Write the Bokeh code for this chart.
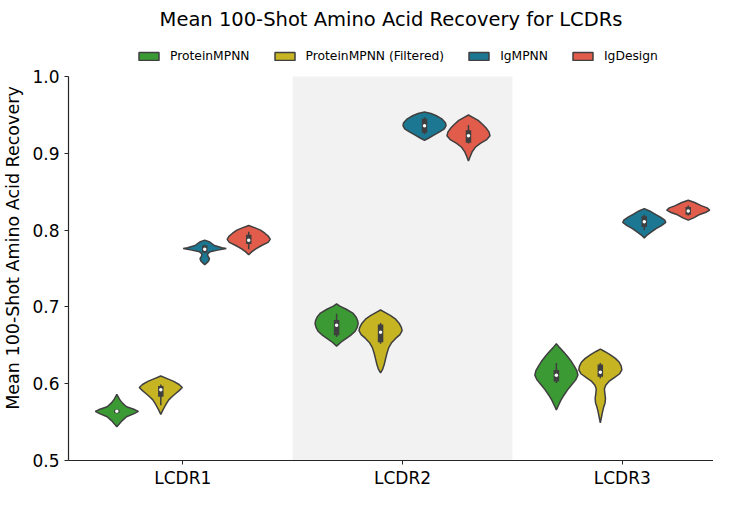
from bokeh.plotting import figure
from bokeh.models import Range1d, FixedTicker, Legend, LegendItem
from bokeh.embed import file_html
from bokeh.resources import INLINE

categories = ["LCDR1", "LCDR2", "LCDR3"]
models = ["ProteinMPNN", "ProteinMPNN (Filtered)", "IgMPNN", "IgDesign"]
colors = ["#3b9a34", "#c6b423", "#1c7892", "#e25c4b"]
y_ticks = [0.5, 0.6, 0.7, 0.8, 0.9, 1.0]

# Violin outlines: value levels (top->bottom) and relative half-width
pm_y = [
    [0.586, 0.580, 0.575, 0.570, 0.566, 0.564, 0.561, 0.557, 0.552, 0.548, 0.544],
    [0.704, 0.701, 0.697, 0.692, 0.687, 0.682, 0.678, 0.673, 0.668, 0.663, 0.658, 0.654, 0.649],
    [0.652, 0.647, 0.642, 0.636, 0.630, 0.623, 0.617, 0.611, 0.605, 0.599, 0.592, 0.585, 0.578, 0.572, 0.566],
]
pm_w = [
    [0, 0.12, 0.25, 0.45, 0.85, 1.0, 0.8, 0.45, 0.25, 0.12, 0],
    [0, 0.15, 0.45, 0.75, 0.9, 0.98, 1.0, 0.95, 0.85, 0.65, 0.4, 0.2, 0],
    [0, 0.15, 0.32, 0.5, 0.67, 0.83, 0.95, 1.0, 0.9, 0.72, 0.52, 0.35, 0.2, 0.1, 0],
]
pmf_y = [
    [0.610, 0.606, 0.603, 0.599, 0.595, 0.591, 0.587, 0.583, 0.579, 0.574, 0.570, 0.566, 0.563, 0.560],
    [0.696, 0.693, 0.689, 0.684, 0.678, 0.673, 0.669, 0.664, 0.659, 0.653, 0.647, 0.640, 0.632, 0.625, 0.619, 0.614],
    [0.645, 0.642, 0.638, 0.633, 0.628, 0.623, 0.618, 0.613, 0.608, 0.603, 0.598, 0.593, 0.587, 0.581, 0.575, 0.569, 0.563, 0.556, 0.549],
]
pmf_w = [
    [0, 0.35, 0.6, 0.85, 1.0, 0.85, 0.68, 0.52, 0.37, 0.26, 0.18, 0.1, 0.05, 0],
    [0, 0.2, 0.45, 0.7, 0.88, 0.97, 1.0, 0.9, 0.7, 0.5, 0.38, 0.3, 0.23, 0.17, 0.1, 0],
    [0, 0.2, 0.45, 0.7, 0.88, 0.97, 1.0, 0.9, 0.65, 0.4, 0.25, 0.19, 0.21, 0.24, 0.22, 0.15, 0.1, 0.05, 0],
]
ig_y = [
    [0.787, 0.785, 0.783, 0.780, 0.777, 0.776, 0.774, 0.772, 0.769, 0.766, 0.763, 0.760, 0.757, 0.755],
    [0.954, 0.952, 0.949, 0.945, 0.940, 0.936, 0.932, 0.928, 0.924, 0.920, 0.917],
    [0.828, 0.825, 0.821, 0.817, 0.813, 0.810, 0.806, 0.802, 0.798, 0.794, 0.790],
]
ig_w = [
    [0, 0.2, 0.3, 0.45, 0.8, 1.0, 0.6, 0.25, 0.13, 0.15, 0.22, 0.18, 0.08, 0],
    [0, 0.3, 0.55, 0.8, 0.97, 1.0, 0.92, 0.7, 0.45, 0.2, 0],
    [0, 0.25, 0.5, 0.75, 0.95, 1.0, 0.8, 0.55, 0.35, 0.15, 0],
]
igd_y = [
    [0.806, 0.803, 0.800, 0.796, 0.792, 0.788, 0.784, 0.780, 0.776, 0.772, 0.768],
    [0.950, 0.947, 0.943, 0.938, 0.933, 0.928, 0.923, 0.918, 0.913, 0.908, 0.902, 0.896, 0.890],
    [0.839, 0.836, 0.832, 0.829, 0.826, 0.823, 0.820, 0.816, 0.813],
]
igd_w = [
    [0, 0.3, 0.55, 0.75, 0.92, 1.0, 0.9, 0.6, 0.35, 0.15, 0],
    [0, 0.2, 0.45, 0.65, 0.82, 0.95, 1.0, 0.85, 0.55, 0.32, 0.17, 0.08, 0],
    [0, 0.3, 0.6, 0.88, 1.0, 0.8, 0.5, 0.25, 0],
]

# Inner box statistics (per category): median, q1, q3, whisker low, whisker high
pm_med = [0.564, 0.676, 0.611]
pm_q1 = [0.562, 0.663, 0.603]
pm_q3 = [0.566, 0.683, 0.618]
pm_lo = [0.561, 0.661, 0.601]
pm_hi = [0.567, 0.691, 0.627]

pmf_med = [0.592, 0.667, 0.615]
pmf_q1 = [0.583, 0.654, 0.609]
pmf_q3 = [0.597, 0.677, 0.625]
pmf_lo = [0.572, 0.652, 0.607]
pmf_hi = [0.599, 0.679, 0.627]

ig_med = [0.775, 0.936, 0.811]
ig_q1 = [0.771, 0.927, 0.804]
ig_q3 = [0.780, 0.945, 0.818]
ig_lo = [0.770, 0.925, 0.800]
ig_hi = [0.781, 0.947, 0.820]

igd_med = [0.787, 0.923, 0.825]
igd_q1 = [0.782, 0.914, 0.820]
igd_q3 = [0.794, 0.930, 0.830]
igd_lo = [0.775, 0.913, 0.819]
igd_hi = [0.798, 0.937, 0.832]

profiles_y = [pm_y, pmf_y, ig_y, igd_y]
profiles_w = [pm_w, pmf_w, ig_w, igd_w]
meds = [pm_med, pmf_med, ig_med, igd_med]
q1s = [pm_q1, pmf_q1, ig_q1, igd_q1]
q3s = [pm_q3, pmf_q3, ig_q3, igd_q3]
los = [pm_lo, pmf_lo, ig_lo, igd_lo]
his = [pm_hi, pmf_hi, ig_hi, igd_hi]

FONT = "DejaVu Sans"
OUT = "#3f3f3f"
n_h = len(models)
group_w = 0.8
hue_w = group_w / n_h
half_max = hue_w / 2 * 0.98
offsets = [-group_w / 2 + hue_w * (j + 0.5) for j in range(n_h)]

FIG_H = 490
TOP = 28
BOTTOM_EST = 38
HEAD = 41
frame_h = FIG_H - TOP - BOTTOM_EST
y_lo, y_hi = y_ticks[0], y_ticks[-1]
px_per_unit = (frame_h - HEAD) / (y_hi - y_lo)
y_top = y_hi + HEAD / px_per_unit

p = figure(width=713, height=FIG_H, output_backend="svg", toolbar_location=None,
           x_range=Range1d(-0.52, 2.415), y_range=Range1d(y_lo, y_top),
           min_border_left=56, min_border_right=0, min_border_top=TOP, min_border_bottom=20)
p.title.text = "Mean 100-Shot Amino Acid Recovery for LCDRs"
p.title.align = "center"
p.title.text_font = FONT
p.title.text_font_size = "19.5px"
p.title.text_font_style = "normal"
p.title.text_color = "#000000"
p.outline_line_color = None
p.xgrid.grid_line_color = None
p.ygrid.grid_line_color = None
p.background_fill_color = "white"

# shaded band behind the middle category
mid = 1
p.quad(left=[mid - 0.5], right=[mid + 0.5], bottom=[y_lo], top=[y_hi],
       fill_color="#f2f2f2", line_color=None)

legend_items = []
for j in range(n_h):
    xs, ys = [], []
    for i in range(len(categories)):
        cx = i + offsets[j]
        yv = profiles_y[j][i]
        wv = profiles_w[j][i]
        right = [cx + half_max * w for w in wv]
        left = [cx - half_max * w for w in wv][::-1]
        xs.append(right + left)
        ys.append(list(yv) + list(yv)[::-1])
    r = p.patches(xs, ys, fill_color=colors[j], line_color=OUT, line_width=1.5)
    legend_items.append(LegendItem(label=models[j], renderers=[r]))
    cxs = [i + offsets[j] for i in range(len(categories))]
    p.segment(x0=cxs, x1=cxs, y0=los[j], y1=his[j], line_color=OUT, line_width=1.5)
    p.segment(x0=cxs, x1=cxs, y0=q1s[j], y1=q3s[j], line_color=OUT, line_width=5.5, line_cap="butt")
    p.scatter(x=cxs, y=meds[j], size=3.5, fill_color="white", line_color=None)

legend = Legend(items=legend_items, orientation="horizontal", location=(68, frame_h - 27))
legend.label_text_font = FONT
legend.label_text_font_size = "12.3px"
legend.label_text_color = "#000000"
legend.glyph_width = 25
legend.glyph_height = 10
legend.spacing = 22
legend.label_standoff = 9
legend.padding = 2
legend.margin = 0
legend.border_line_color = None
legend.background_fill_alpha = 0
p.add_layout(legend, "center")

p.xaxis.ticker = FixedTicker(ticks=list(range(len(categories))))
p.xaxis.major_label_overrides = {i: c for i, c in enumerate(categories)}
p.xaxis.major_label_standoff = 3
p.yaxis.ticker = FixedTicker(ticks=y_ticks)
p.yaxis.major_label_overrides = {t: f"{t:.1f}" for t in y_ticks}
p.yaxis.bounds = (y_lo, y_hi)
p.yaxis.axis_label = "Mean 100-Shot Amino Acid Recovery"
for ax in (p.xaxis[0], p.yaxis[0]):
    ax.major_label_text_font = FONT
    ax.major_label_text_font_size = "17px"
    ax.major_label_text_color = "#000000"
    ax.axis_label_text_font = FONT
    ax.axis_label_text_font_size = "17.5px"
    ax.axis_label_text_font_style = "normal"
    ax.axis_label_text_color = "#000000"
    ax.axis_line_color = "#262626"
    ax.axis_line_width = 1.2
    ax.major_tick_line_color = "#262626"
    ax.major_tick_in = 0
    ax.major_tick_out = 4
    ax.minor_tick_line_color = None
p.yaxis.axis_label_standoff = 6

open("out.html", "w").write(file_html(p, INLINE))
